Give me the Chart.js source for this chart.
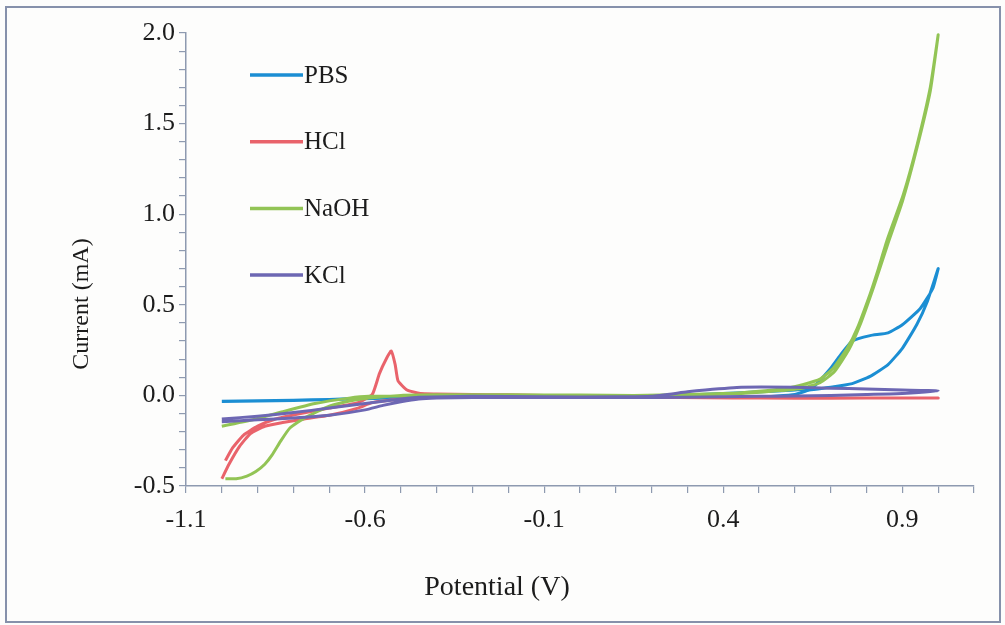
<!DOCTYPE html>
<html>
<head>
<meta charset="utf-8">
<script src="https://cdn.jsdelivr.net/npm/chart.js@4.4.1/dist/chart.umd.min.js"></script>
<style>
  html, body { margin: 0; padding: 0; background: #fdfdfc; }
  #wrap { position: relative; width: 1005px; height: 625px; }
  #frame {
    position: absolute; left: 5px; top: 6px; width: 996px; height: 617px;
    border: 2px solid #8691ab; box-sizing: border-box; pointer-events: none;
  }
</style>
</head>
<body>
<div id="wrap">
  <canvas id="cv" width="1005" height="625"></canvas>
  <div id="frame"></div>
</div>
<script>
// ---- data (potential in V, current in mA) ----
const seriesLabels = ['PBS', 'HCl', 'NaOH', 'KCl'];
const seriesColors = ['#1b8ed3', '#e9636b', '#92c455', '#6d67b3'];

// PBS: forward scan -1.0 -> 1.0, then back
const pbsPotential = [
  -1.0, -0.9, -0.8, -0.7, -0.6, -0.5, -0.4, -0.2, 0.0, 0.2, 0.4, 0.5, 0.6, 0.65,
  0.7, 0.73, 0.76, 0.81, 0.86, 0.9, 0.95, 0.985, 1.0,
  0.97, 0.94, 0.9, 0.86, 0.81, 0.76, 0.7, 0.64, 0.6, 0.5, 0.4, 0.2, 0.0, -0.2,
  -0.4, -0.6, -0.8, -1.0
];
const pbsCurrent = [
  -0.032, -0.03, -0.027, -0.022, -0.015, -0.008, -0.005, -0.008, -0.01, -0.005, 0.01, 0.02, 0.03, 0.045,
  0.15, 0.23, 0.30, 0.33, 0.345, 0.39, 0.48, 0.59, 0.70,
  0.52, 0.39, 0.26, 0.17, 0.105, 0.065, 0.045, 0.03, 0.005, -0.01, -0.01, -0.01, -0.01, -0.01,
  -0.008, -0.018, -0.028, -0.034
];

// HCl
const hclPotential = [
  -0.99, -0.97, -0.94, -0.9, -0.85, -0.78, -0.7, -0.62, -0.58, -0.56, -0.54, -0.527,
  -0.516, -0.508, -0.483, -0.446, -0.4, -0.3, -0.2, 0.0, 0.2, 0.35, 0.5, 0.7, 0.9, 1.0,
  0.8, 0.6, 0.4, 0.2, 0.0, -0.2, -0.4, -0.5, -0.58, -0.62, -0.7, -0.77, -0.83, -0.88,
  -0.92, -0.95, -0.98, -1.0
];
const hclCurrent = [
  -0.36, -0.29, -0.22, -0.17, -0.13, -0.10, -0.07, -0.04, 0.005, 0.12, 0.205, 0.245,
  0.17, 0.08, 0.03, 0.01, 0.008, 0.005, 0.003, -0.005, -0.01, -0.013, -0.015, -0.015, -0.015, -0.015,
  -0.015, -0.015, -0.012, -0.01, -0.008, -0.006, -0.005, -0.02, -0.04, -0.07, -0.11, -0.13, -0.15, -0.17,
  -0.21, -0.28, -0.38, -0.46
];

// NaOH
const naohPotential = [
  -0.99, -0.96, -0.93, -0.905, -0.88, -0.86, -0.835, -0.81, -0.765, -0.7, -0.64, -0.59,
  -0.5, -0.4, -0.2, 0.0, 0.15, 0.3, 0.45, 0.58, 0.624, 0.67, 0.707, 0.746, 0.774, 0.81,
  0.83, 0.858, 0.903, 0.942, 0.978, 1.0,
  0.978, 0.94, 0.9, 0.86, 0.82, 0.78, 0.75, 0.71, 0.67, 0.62, 0.55, 0.45, 0.3, 0.15,
  0.0, -0.2, -0.4, -0.59, -0.645, -0.74, -0.83, -0.905, -1.0
];
const naohCurrent = [
  -0.46, -0.46, -0.445, -0.42, -0.38, -0.33, -0.25, -0.18, -0.12, -0.06, -0.03, -0.015,
  0.0, 0.003, 0.003, 0.002, 0.0, 0.005, 0.015, 0.04, 0.06, 0.09, 0.15, 0.26, 0.37, 0.56,
  0.68, 0.86, 1.11, 1.39, 1.70, 1.99,
  1.68, 1.36, 1.07, 0.84, 0.60, 0.38, 0.25, 0.13, 0.07, 0.04, 0.025, 0.01, 0.0, -0.005,
  -0.005, -0.003, -0.003, -0.005, -0.015, -0.045, -0.09, -0.13, -0.17
];

// KCl
const kclPotential = [
  -1.0, -0.9, -0.8, -0.7, -0.6, -0.5, -0.45, -0.3, -0.1, 0.1, 0.2, 0.3, 0.35, 0.45,
  0.6, 0.7, 0.8, 0.9, 1.0,
  0.9, 0.8, 0.7, 0.6, 0.5, 0.3, 0.1, -0.1, -0.3, -0.4, -0.45, -0.5, -0.55, -0.6,
  -0.7, -0.8, -0.9, -1.0
];
const kclCurrent = [
  -0.13, -0.115, -0.095, -0.07, -0.045, -0.02, -0.01, -0.005, -0.008, -0.008, -0.005, 0.02, 0.03, 0.045,
  0.045, 0.04, 0.035, 0.03, 0.025,
  0.01, 0.005, 0.0, -0.003, -0.005, -0.01, -0.012, -0.012, -0.012, -0.015, -0.02, -0.035, -0.055, -0.08,
  -0.11, -0.125, -0.135, -0.145
];

const xTickValues = [
  -1.1, -1.0, -0.9, -0.8, -0.7, -0.6, -0.5, -0.4, -0.3, -0.2, -0.1, 0.0,
  0.1, 0.2, 0.3, 0.4, 0.5, 0.6, 0.7, 0.8, 0.9, 1.0, 1.1
];
const xTickLabels = ['-1.1', '-0.6', '-0.1', '0.4', '0.9'];
const yTickValues = [
  -0.5, -0.4, -0.3, -0.2, -0.1, 0.0, 0.1, 0.2, 0.3, 0.4, 0.5, 0.6, 0.7, 0.8, 0.9,
  1.0, 1.1, 1.2, 1.3, 1.4, 1.5, 1.6, 1.7, 1.8, 1.9, 2.0
];
const yTickLabels = ['-0.5', '0.0', '0.5', '1.0', '1.5', '2.0'];

const xTitle = 'Potential (V)';
const yTitle = 'Current (mA)';

// ---- chart ----
const SERIF = '"Liberation Serif", "Times New Roman", serif';
const AXIS_COLOR = '#8e9ab0';
const TEXT_COLOR = '#1c1c1c';

const allSeries = [
  [pbsPotential, pbsCurrent],
  [hclPotential, hclCurrent],
  [naohPotential, naohCurrent],
  [kclPotential, kclCurrent]
];
const drawOrder = [3, 2, 1, 0];   // KCl sits on top, as in the original

const datasets = allSeries.map(([xs, ys], i) => ({
  label: seriesLabels[i],
  data: xs.map((x, k) => ({ x, y: ys[k] })),
  borderColor: seriesColors[i],
  backgroundColor: seriesColors[i],
  borderWidth: 3,
  pointRadius: 0,
  showLine: true,
  tension: 0.15,
  order: drawOrder[i]
}));

function pickLabel(list) {
  return value => {
    const s = Number(value).toFixed(1);
    return list.includes(s) ? s : '';
  };
}

// legend and axis titles are placed freely, like in the spreadsheet original
const textPlugin = {
  id: 'sheetText',
  afterDraw(chart) {
    const { ctx, chartArea: a } = chart;
    ctx.save();
    ctx.fillStyle = TEXT_COLOR;
    ctx.font = '25px ' + SERIF;
    ctx.textBaseline = 'middle';
    chart.data.datasets.forEach((ds, i) => {
      const y = a.top + 42 + i * 66.7;
      ctx.strokeStyle = ds.borderColor;
      ctx.lineWidth = 3.5;
      ctx.beginPath();
      ctx.moveTo(a.left + 64, y);
      ctx.lineTo(a.left + 117, y);
      ctx.stroke();
      ctx.fillText(ds.label, a.left + 118, y + 1);
    });

    ctx.textAlign = 'center';
    ctx.font = '28px ' + SERIF;
    ctx.fillText(xTitle, 497, 588);
    ctx.font = '24px ' + SERIF;
    ctx.translate(82, 304);
    ctx.rotate(-Math.PI / 2);
    ctx.fillText(yTitle, 0, 0);
    ctx.restore();
  }
};

function axis(min, max, tickValues, tickLabels, fit, pad) {
  return {
    type: 'linear',
    min, max,
    afterBuildTicks: s => { s.ticks = tickValues.map(v => ({ value: v })); },
    afterFit: fit,
    border: { display: true, color: AXIS_COLOR, width: 1.5 },
    grid: {
      display: true,
      drawOnChartArea: false,
      drawTicks: true,
      tickLength: 7,
      color: AXIS_COLOR,
      lineWidth: 1.2
    },
    ticks: {
      autoSkip: false,
      maxRotation: 0,
      padding: pad,
      color: TEXT_COLOR,
      font: { family: SERIF, size: 26 },
      callback: pickLabel(tickLabels)
    }
  };
}

new Chart(document.getElementById('cv'), {
  type: 'scatter',
  data: { datasets },
  options: {
    responsive: false,
    animation: false,
    events: [],
    layout: { padding: { top: 33, right: 31, left: 0, bottom: 0 } },
    plugins: {
      legend: { display: false },
      tooltip: { enabled: false }
    },
    scales: {
      x: axis(-1.1, 1.1, xTickValues, xTickLabels, s => { s.height = 139; }, 12),
      y: axis(-0.5, 2.0, yTickValues, yTickLabels, s => { s.width = 186; }, 4)
    }
  },
  plugins: [textPlugin]
});
</script>
</body>
</html>
